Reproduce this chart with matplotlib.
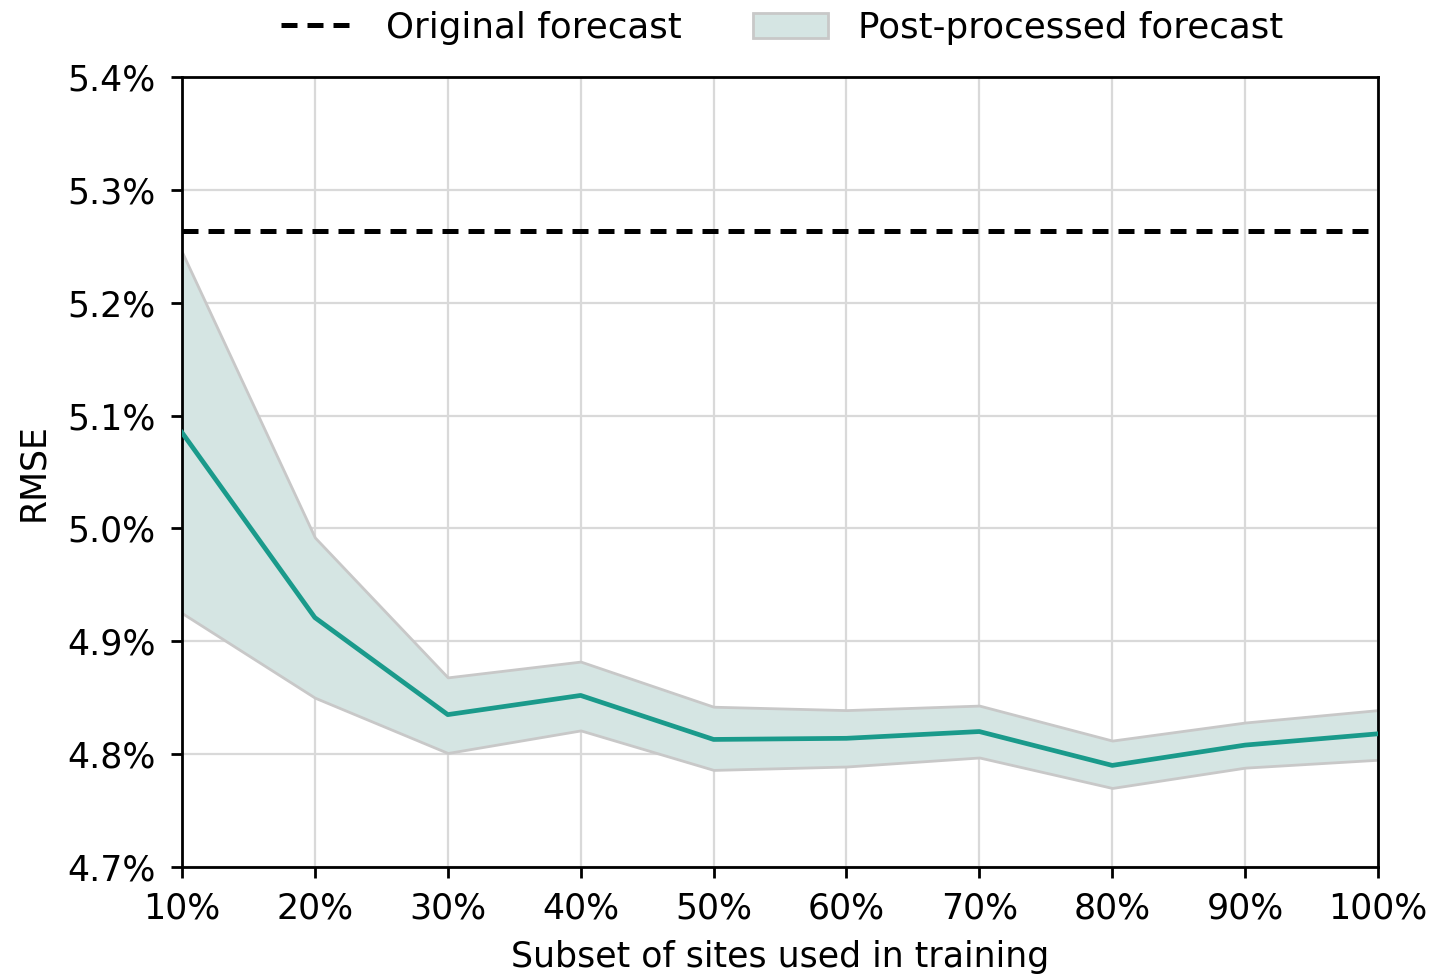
import matplotlib
matplotlib.use("Agg")
import matplotlib.pyplot as plt
import numpy as np
from matplotlib.patches import Patch
from matplotlib.lines import Line2D
from matplotlib.ticker import FuncFormatter

# share of sites used for training (%)
subset = [10, 20, 30, 40, 50, 60, 70, 80, 90, 100]
# RMSE of post-processed forecast (%): mean and spread
rmse_mean = [5.085, 4.921, 4.835, 4.852, 4.813, 4.814, 4.820, 4.790, 4.808, 4.818]
rmse_upper = [5.245, 4.992, 4.868, 4.882, 4.842, 4.839, 4.843, 4.812, 4.828, 4.839]
rmse_lower = [4.925, 4.850, 4.801, 4.821, 4.786, 4.789, 4.797, 4.770, 4.788, 4.795]
# RMSE of the raw forecast (%)
rmse_original = 5.264

plt.rcParams["font.size"] = 25

fig = plt.figure(figsize=(14.35, 9.74), dpi=100)
ax = fig.add_axes([0.1268, 0.1099, 0.8335, 0.811])

dash = (0, (3.2, 2.0))
ax.fill_between(subset, rmse_lower, rmse_upper, facecolor="#d5e5e3",
                edgecolor="#c8c8c8", linewidth=2, zorder=2)
ax.plot(subset, rmse_mean, color="#1a9a8b", linewidth=3.4, zorder=3)
ax.axhline(rmse_original, color="black", linestyle=dash,
           linewidth=3.6, zorder=4)

ax.set_xlim(10, 100)
ax.set_ylim(4.7, 5.4)
ax.set_xticks(subset)
ax.set_yticks(np.arange(4.7, 5.41, 0.1))
ax.xaxis.set_major_formatter(FuncFormatter(lambda v, p: f"{v:.0f}%"))
ax.yaxis.set_major_formatter(FuncFormatter(lambda v, p: f"{v:.1f}%"))
ax.grid(True, color="#d9d9d9", linewidth=1.6, zorder=0)
ax.set_axisbelow(True)
ax.tick_params(length=8, width=2)
ax.tick_params(axis="x", pad=10)
ax.tick_params(axis="y", pad=11)
for s in ax.spines.values():
    s.set_linewidth(2)

ax.set_xlabel("Subset of sites used in training", labelpad=10)
ax.set_ylabel("RMSE", labelpad=12)

handles = [
    Line2D([], [], color="black", linestyle=dash, linewidth=3.6),
    Patch(facecolor="#d5e5e3", edgecolor="#c8c8c8", linewidth=2),
]
fig.legend(handles, ["Original forecast", "Post-processed forecast"],
           loc="upper center", bbox_to_anchor=(0.545, 1.022), ncol=2,
           frameon=False, columnspacing=2.0, handlelength=2.1,
           handletextpad=0.85, prop={"size": 25.7})

fig.savefig("out.png", dpi=100)
